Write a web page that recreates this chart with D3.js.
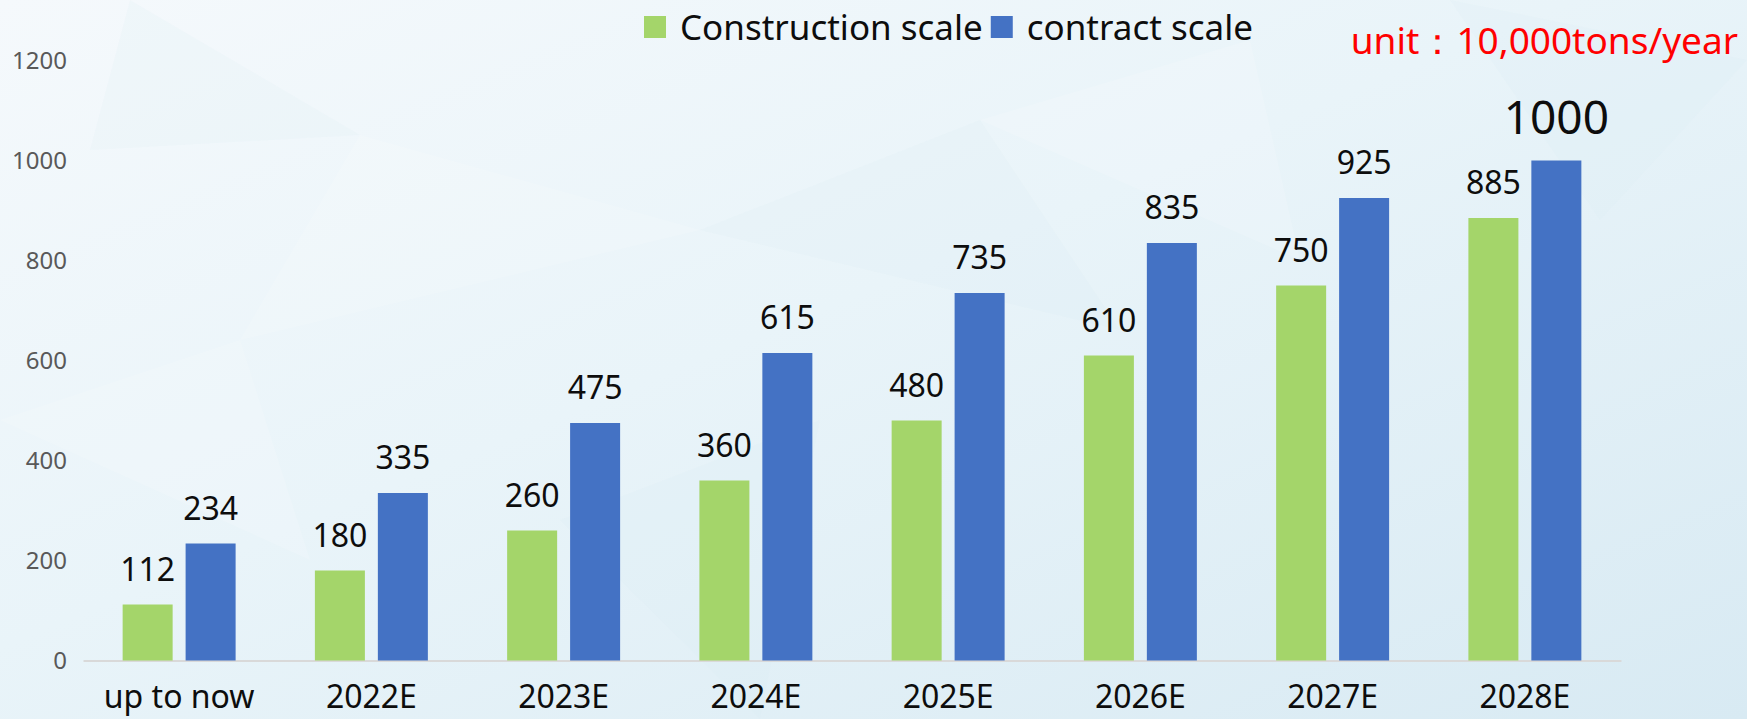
<!DOCTYPE html>
<html>
<head>
<meta charset="utf-8">
<script src="https://cdn.jsdelivr.net/npm/d3@7"></script>
<style>
  html, body { margin: 0; padding: 0; overflow: hidden; }
  #d3data { width: 1747px; height: 719px; }
  text { font-family: "Noto Sans", "Open Sans", sans-serif; }
</style>
</head>
<body>
<div id="d3data"></div>
<script>
var categories = ["up to now", "2022E", "2023E", "2024E", "2025E", "2026E", "2027E", "2028E"];
var seriesNames = ["Construction scale", "contract scale"];
var construction = [112, 180, 260, 360, 480, 610, 750, 885];
var contract = [234, 335, 475, 615, 735, 835, 925, 1000];
var yTicks = [0, 200, 400, 600, 800, 1000, 1200];
var unitText = "unit\uff1a10,000tons/year";
var colors = ["#a4d56a", "#4472c4"];

var width = document.getElementById("d3data").offsetWidth;
var height = document.getElementById("d3data").offsetHeight;

var svg = d3.select("#d3data")
    .append("svg")
    .attr("width", width)
    .attr("height", height);

// background: soft gradient with a few faint facets
var defs = svg.append("defs");
var grad = defs.append("linearGradient")
    .attr("id", "bg")
    .attr("x1", "0").attr("y1", "0")
    .attr("x2", "1").attr("y2", "1");
grad.append("stop").attr("offset", "0%").attr("stop-color", "#f5f9fc");
grad.append("stop").attr("offset", "45%").attr("stop-color", "#e9f4f9");
grad.append("stop").attr("offset", "100%").attr("stop-color", "#d8eaf3");

svg.append("rect")
    .attr("width", width)
    .attr("height", height)
    .attr("fill", "url(#bg)");

var facets = [
    [[130, 0], [360, 135], [90, 150]],
    [[360, 135], [700, 230], [240, 340]],
    [[700, 230], [980, 120], [1120, 330]],
    [[0, 420], [240, 340], [310, 560]],
    [[1450, 0], [1747, 60], [1600, 220]],
    [[980, 120], [1250, 40], [1300, 260]],
    [[560, 520], [820, 420], [760, 719]]
];
svg.selectAll("polygon.facet")
    .data(facets)
    .enter()
    .append("polygon")
    .attr("class", "facet")
    .attr("points", d => d.map(p => p.join(",")).join(" "))
    .attr("fill", (d, i) => i % 2 ? "#ffffff" : "#d6eaf4")
    .attr("opacity", 0.15);

var margin = { left: 83, right: 126, top: 60.5, bottom: 58.5 };

var x0 = d3.scaleBand()
    .domain(categories)
    .range([margin.left, width - margin.right])
    .paddingInner(0.4124)
    .paddingOuter(0.2062);

var x1 = d3.scaleBand()
    .domain([0, 1])
    .range([0, x0.bandwidth()])
    .paddingInner(0.206);

var yScale = d3.scaleLinear()
    .domain([0, 1200])
    .range([height - margin.bottom, margin.top]);

// y axis labels only (no line, no ticks)
var yAxis = d3.axisLeft(yScale)
    .tickValues(yTicks)
    .tickFormat(d3.format("d"))
    .tickSize(0)
    .tickPadding(16);

var gy = svg.append("g")
    .attr("transform", "translate(" + margin.left + ",0)")
    .call(yAxis);
gy.select(".domain").remove();
gy.selectAll("text")
    .attr("fill", "#595959")
    .style("font-size", "24px");

// x axis
var xAxis = d3.axisBottom(x0)
    .tickSize(0)
    .tickPadding(25);

var gx = svg.append("g")
    .attr("transform", "translate(0," + (height - margin.bottom) + ")")
    .call(xAxis);
gx.select(".domain")
    .attr("stroke", "#d9d9d9")
    .attr("stroke-width", 2);
gx.selectAll("text")
    .attr("fill", "#0d0d0d")
    .style("font-size", "32px");

// bars
var table = categories.map((c, i) => ({ name: c, vals: [construction[i], contract[i]] }));

var groups = svg.selectAll("g.grp")
    .data(table)
    .enter()
    .append("g")
    .attr("class", "grp")
    .attr("transform", d => "translate(" + x0(d.name) + ",0)");

groups.selectAll("rect")
    .data(d => d.vals.map((v, k) => ({ k: k, v: v })))
    .enter()
    .append("rect")
    .attr("x", d => x1(d.k))
    .attr("y", d => yScale(d.v))
    .attr("width", x1.bandwidth())
    .attr("height", d => yScale(0) - yScale(d.v))
    .attr("fill", d => colors[d.k]);

groups.selectAll("text.val")
    .data(d => d.vals.map((v, k) => ({ k: k, v: v })))
    .enter()
    .append("text")
    .attr("class", "val")
    .attr("x", d => x1(d.k) + x1.bandwidth() / 2)
    .attr("y", d => yScale(d.v) - (d.v >= 1000 ? 27 : 24))
    .attr("text-anchor", "middle")
    .attr("fill", "#0d0d0d")
    .style("font-size", d => d.v >= 1000 ? "46px" : "32px")
    .text(d => d.v);

// legend
var legend = svg.append("g").attr("class", "legend");
var lx = 644;
seriesNames.forEach((name, k) => {
    legend.append("rect")
        .attr("x", lx)
        .attr("y", 16)
        .attr("width", 22)
        .attr("height", 22)
        .attr("fill", colors[k]);
    var t = legend.append("text")
        .attr("x", lx + 36)
        .attr("y", 40)
        .attr("fill", "#0d0d0d")
        .style("font-size", "35px")
        .text(name);
    lx = lx + 36 + t.node().getComputedTextLength() + 8;
});

// unit note
svg.append("text")
    .attr("x", 1738)
    .attr("y", 54)
    .attr("text-anchor", "end")
    .attr("fill", "#ff0000")
    .style("font-size", "37px")
    .text(unitText);
</script>
</body>
</html>
